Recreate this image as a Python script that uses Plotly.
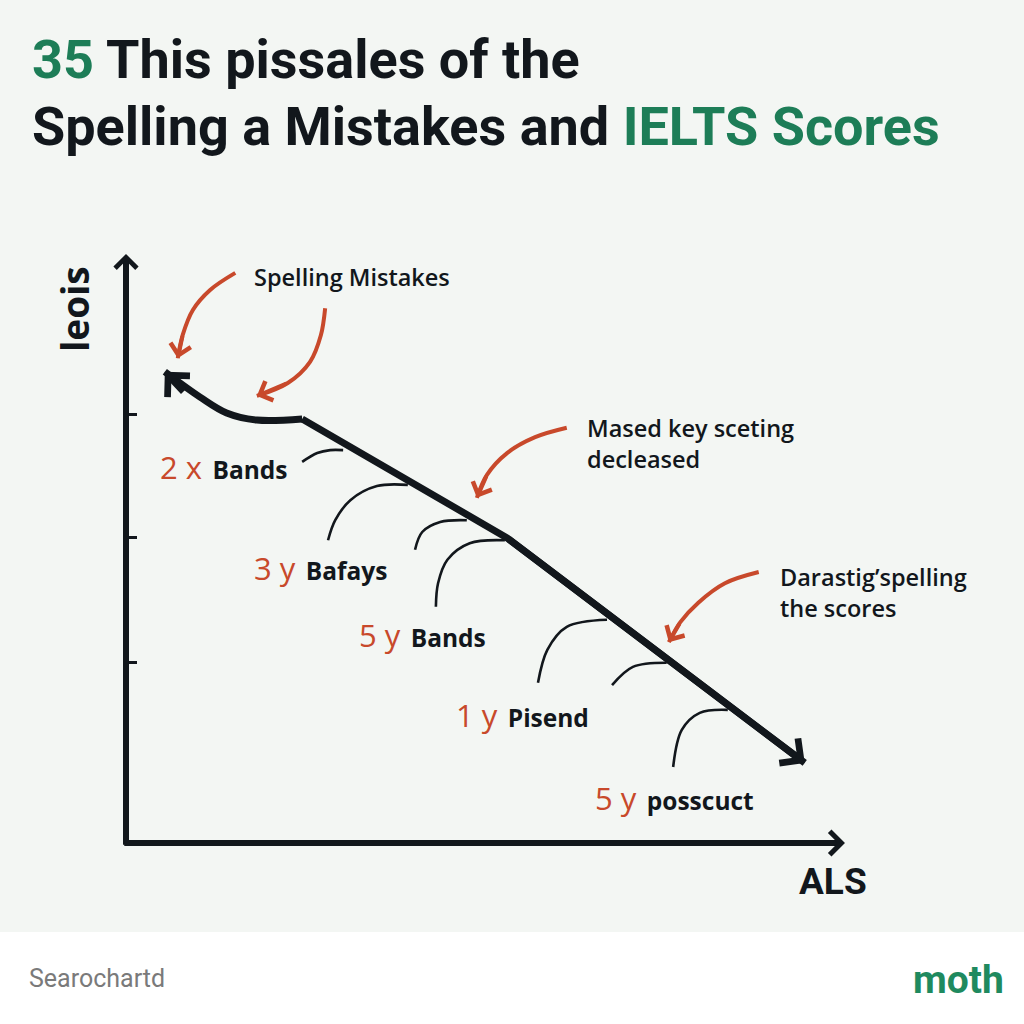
import plotly.graph_objects as go

# ---------------- data ----------------
title_line1 = ["35", " This pissales of the"]
title_line2 = ["Spelling a Mistakes and ", "IELTS Scores"]
y_label = "leois"
x_label = "ALS"
footer_left = "Searochartd"
footer_right = "moth"

# main trend line (curved start, then straight decline)
curve_x = [0.54, 1.03, 1.40, 1.82, 2.45]
curve_y = [8.00, 7.57, 7.30, 7.18, 7.20]
trend_x = [2.45, 5.30, 9.44]
trend_y = [7.20, 5.18, 1.36]
start_tail = [0.82, 7.64]

# small arcs hanging below the trend line
arc_x = [[3.02, 2.84, 2.66, 2.45],
         [3.92, 3.49, 3.12, 2.91, 2.81],
         [4.74, 4.37, 4.12, 4.02],
         [5.27, 4.78, 4.47, 4.34, 4.31],
         [6.69, 6.13, 5.86, 5.73],
         [7.52, 7.05, 6.76],
         [8.37, 7.98, 7.73, 7.61]]
arc_y = [[6.67, 6.67, 6.62, 6.47],
         [6.08, 6.06, 5.82, 5.48, 5.14],
         [5.48, 5.45, 5.28, 4.98],
         [5.14, 5.09, 4.81, 4.41, 4.01],
         [3.79, 3.67, 3.28, 2.72],
         [3.06, 2.99, 2.68],
         [2.26, 2.21, 1.92, 1.29]]

# red curved pointer arrows
pointer_x = [[1.52, 1.17, 0.93, 0.79, 0.72],
             [2.77, 2.71, 2.56, 2.25, 1.82],
             [6.13, 5.69, 5.30, 5.02, 4.88],
             [8.80, 8.33, 7.96, 7.71, 7.55]]
pointer_y = [[9.68, 9.39, 9.05, 8.63, 8.23],
             [9.08, 8.62, 8.17, 7.81, 7.59],
             [7.05, 6.89, 6.62, 6.25, 5.86],
             [4.60, 4.41, 4.08, 3.75, 3.41]]

# notes
note_texts = ["Spelling Mistakes", "Mased key sceting<br>decleased", "Darastig\u2019spelling<br>the scores"]
note_x = [1.75, 6.38, 9.07]
note_y = [9.61, 6.79, 4.26]

# band labels
band_nums = ["2 x", "3 y", "5 y", "1 y", "5 y"]
band_words = ["Bands", "Bafays", "Bands", "Pisend", "posscuct"]
band_x = [0.45, 1.75, 3.21, 4.56, 6.49]
band_y = [6.38, 4.67, 3.53, 2.17, 0.76]

y_ticks = [3.07, 5.18, 7.27]

# ---------------- style ----------------
DARK = "#12171c"
GREEN = "#1d7d57"
RED = "#c8492b"
BG = "#f3f6f3"

fig = go.Figure()

# trend line
fig.add_trace(go.Scatter(x=curve_x, y=curve_y, mode="lines",
                         line=dict(color=DARK, width=7, shape="spline"), hoverinfo="skip"))
fig.add_trace(go.Scatter(x=trend_x, y=trend_y, mode="lines",
                         line=dict(color=DARK, width=7), hoverinfo="skip"))

for xs, ys in zip(arc_x, arc_y):
    fig.add_trace(go.Scatter(x=xs, y=ys, mode="lines",
                             line=dict(color=DARK, width=2.6, shape="spline"), hoverinfo="skip"))

for xs, ys in zip(pointer_x, pointer_y):
    fig.add_trace(go.Scatter(x=xs, y=ys, mode="lines",
                             line=dict(color=RED, width=4, shape="spline"), hoverinfo="skip"))

ann = []

def arrow(tip_x, tip_y, tail_x, tail_y, color, width, size):
    ann.append(dict(x=tip_x, y=tip_y, ax=tail_x, ay=tail_y, xref="x", yref="y",
                    axref="x", ayref="y", text="", showarrow=True, arrowhead=4,
                    arrowwidth=width, arrowsize=size, arrowcolor=color))

# axes with arrow heads
arrow(0, 10, 0, -0.055, DARK, 6, 0.7)
arrow(10, 0, -0.045, 0, DARK, 6, 0.75)
# trend line heads
arrow(curve_x[0], curve_y[0], start_tail[0], start_tail[1], DARK, 7, 0.85)
arrow(trend_x[-1], trend_y[-1], trend_x[-2], trend_y[-2], DARK, 7, 0.85)
# red pointer heads
for xs, ys in zip(pointer_x, pointer_y):
    arrow(xs[-1], ys[-1], xs[-2], ys[-2], RED, 4, 1.0)

# notes
for t, x, y in zip(note_texts, note_x, note_y):
    ann.append(dict(x=x, y=y, xref="x", yref="y", text=t, showarrow=False,
                    xanchor="left", yanchor="middle", align="left",
                    font=dict(family="Open Sans", size=23.5, color=DARK, weight=600)))

# band labels
for n, w, x, y in zip(band_nums, band_words, band_x, band_y):
    txt = (f"<span style='color:{RED};font-size:31px;font-weight:400'>{n}</span>"
           f"\u2009 <b>{w}</b>")
    ann.append(dict(x=x, y=y, xref="x", yref="y", text=txt, showarrow=False,
                    xanchor="left", yanchor="middle",
                    font=dict(family="Open Sans", size=24.5, color=DARK)))

# title
ann.append(dict(x=30/1024, y=1-59/1024, xref="paper", yref="paper", showarrow=False,
                xanchor="left", yanchor="middle",
                text=f"<span style='color:{GREEN}'>{title_line1[0]}</span>{title_line1[1]}",
                font=dict(family="Roboto", size=54, color=DARK, weight=700)))
ann.append(dict(x=30/1024, y=1-126/1024, xref="paper", yref="paper", showarrow=False,
                xanchor="left", yanchor="middle",
                text=f"{title_line2[0]}<span style='color:{GREEN}'>{title_line2[1]}</span>",
                font=dict(family="Roboto", size=54, color=DARK, weight=700)))

# axis labels
ann.append(dict(x=74/1024, y=1-309/1024, xref="paper", yref="paper", showarrow=False,
                xanchor="center", yanchor="middle",
                text=y_label, textangle=-90,
                font=dict(family="Open Sans", size=37, color=DARK, weight=700)))
ann.append(dict(x=833/1024, y=1-881/1024, xref="paper", yref="paper", showarrow=False,
                xanchor="center", yanchor="middle",
                text=x_label,
                font=dict(family="Roboto", size=37, color=DARK, weight=700)))

# footer
ann.append(dict(x=27/1024, y=1-978/1024, xref="paper", yref="paper", showarrow=False,
                xanchor="left", yanchor="middle", text=footer_left,
                font=dict(family="Roboto", size=25, color="#7a7a7a")))
ann.append(dict(x=1006/1024, y=1-980/1024, xref="paper", yref="paper", showarrow=False,
                xanchor="right", yanchor="middle", text=footer_right,
                font=dict(family="Roboto", size=39, color="#1f8a5f", weight=700)))

fig.update_layout(
    width=1024, height=1024,
    margin=dict(l=0, r=0, t=0, b=0),
    paper_bgcolor="#ffffff",
    plot_bgcolor="rgba(0,0,0,0)",
    showlegend=False,
    annotations=ann,
    shapes=[dict(type="rect", xref="paper", yref="paper", x0=0, x1=1,
                 y0=1-932/1024, y1=1, fillcolor=BG, line=dict(width=0), layer="below")],
    xaxis=dict(domain=[126/1024, 845/1024], range=[0, 10], showgrid=False,
               zeroline=False, showticklabels=False, showline=False, ticks="",
               fixedrange=True),
    yaxis=dict(domain=[1-843/1024, 1-254/1024], range=[0, 10], showgrid=False,
               zeroline=False, showticklabels=False, showline=False,
               ticks="inside", tickvals=y_ticks, ticklen=11, tickwidth=3,
               tickcolor=DARK, fixedrange=True),
)

fig.write_html("out.html", config={"displayModeBar": False},
               post_script="document.body.style.margin='0';document.body.style.overflow='hidden';")
